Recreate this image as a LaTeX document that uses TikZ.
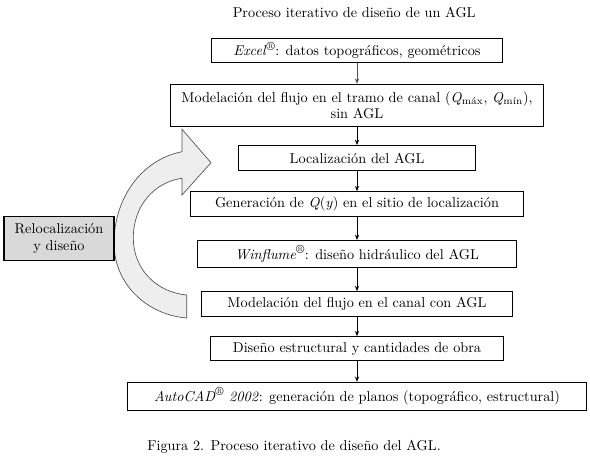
\documentclass[tikz,border=0pt]{standalone}
\usetikzlibrary{arrows.meta}
\definecolor{relocfill}{RGB}{217,217,217}
\definecolor{arrowfill}{RGB}{238,238,238}
\definecolor{arrowline}{RGB}{80,80,80}
\newcommand{\regmark}{\textsuperscript{\fontsize{9}{9}\selectfont\textregistered}}
\begin{document}
\begin{tikzpicture}[x=0.75pt,y=-0.75pt,
  every node/.style={font=\fontsize{10.7}{12.5}\selectfont},
  box/.style={draw, line width=0.8pt, inner sep=0pt, align=center},
  conn/.style={line width=0.7pt, -{Stealth[length=4pt,width=3.2pt]}}]
\useasboundingbox (0,0) rectangle (590,463);
% big curved arrow
\draw[fill=arrowfill, draw=arrowline, line width=0.5pt]
  (186.7,318) -- (186.7,295)
  .. controls (155,292) and (133.3,268) .. (133.3,238)
  .. controls (133.3,205) and (155,182) .. (182,178.3)
  -- (182,195) -- (211,162.7) -- (182,129.3) -- (182,151.7)
  .. controls (140,160) and (114,200) .. (114,243)
  .. controls (114,285) and (148,315) .. (186.7,318) -- cycle;
\node (title) at (354.2,12.7) {Proceso iterativo de diseño de un AGL};
\node[box, minimum width=218.8pt, minimum height=18pt] (excel) at (357,50.3)
  {\textit{Excel}\regmark: datos topográficos, geométricos};
\node[box, minimum width=279.75pt, minimum height=31.5pt] (model1) at (357,105.3)
  {Modelación del flujo en el tramo de canal (\textit{Q}\textsubscript{máx}, \textit{Q}\textsubscript{mín}),\\ sin AGL};
\node[box, minimum width=178pt, minimum height=19pt] (loc) at (357,158.3)
  {Localización del AGL};
\node[box, minimum width=249.5pt, minimum height=18.75pt] (gen) at (357,204.2)
  {Generación de \textit{Q}(\textit{y}) en el sitio de localización};
\node[box, minimum width=239.5pt, minimum height=20.25pt] (win) at (357,254)
  {\textit{Winflume}\regmark: diseño hidráulico del AGL};
\node[box, minimum width=233.7pt, minimum height=18.75pt] (model2) at (357,304.2)
  {Modelación del flujo en el canal con AGL};
\node[box, minimum width=219.2pt, minimum height=18pt] (dis) at (357,348.7)
  {Diseño estructural y cantidades de obra};
\node[box, minimum width=344.5pt, minimum height=20.8pt] (auto) at (357,396.2)
  {\textit{AutoCAD}\regmark~\textit{2002}: generación de planos (topográfico, estructural)};
\node[box, fill=relocfill, minimum width=82.5pt, minimum height=33pt] (reloc) at (59,238.7)
  {Relocalización\\ y diseño};
\node (caption) at (294,447) {Figura 2. Proceso iterativo de diseño del AGL.};
\draw[conn, arrowline] (excel) -- (model1);
\draw[conn] (model1) -- (loc);
\draw[conn] (loc) -- (gen);
\draw[conn] (gen) -- (win);
\draw[conn] (win) -- (model2);
\draw[conn] (model2) -- (dis);
\draw[conn] (dis) -- (auto);
\end{tikzpicture}
\end{document}
